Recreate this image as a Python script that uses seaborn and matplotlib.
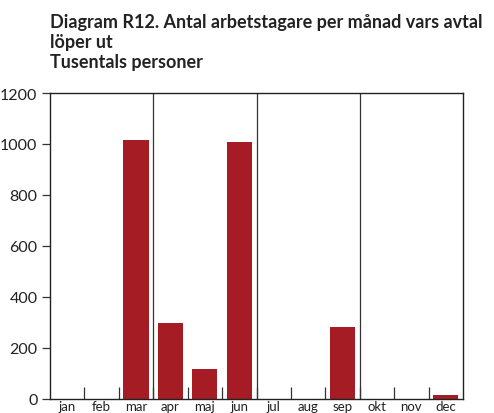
import matplotlib
matplotlib.use("Agg")
import matplotlib.pyplot as plt
from matplotlib.ticker import FixedLocator
import seaborn as sns
import pandas as pd

months = ["jan", "feb", "mar", "apr", "maj", "jun", "jul", "aug", "sep", "okt", "nov", "dec"]
workers = [0, 0, 1014, 298, 118, 1008, 0, 0, 282, 0, 0, 17]
y_ticks = [0, 200, 400, 600, 800, 1000, 1200]

sns.set_theme(style="white")
plt.rcParams["font.family"] = ["Lato", "DejaVu Sans"]

df = pd.DataFrame({"month": months, "workers": workers})

fig = plt.figure(figsize=(4.94, 4.14), dpi=100)
ax = fig.add_axes([50 / 494, 14 / 414, 413 / 494, 306 / 414])

sns.barplot(data=df, x="month", y="workers", color="#A51C24", width=0.73,
            saturation=1, ax=ax, edgecolor="none")

ax.set_ylim(0, 1200)
ax.set_xlim(-0.5, 11.5)
ax.set_yticks(y_ticks)
ax.set_yticklabels([str(v) for v in y_ticks], fontsize=11.5, color="#222222")
ax.set_xlabel("")
ax.set_ylabel("")

# quarter separators spanning the full height
for q in [2.5, 5.5, 8.5]:
    ax.axvline(q, color="#333333", lw=0.9, zorder=0)

# month boundaries as short inward ticks on the bottom axis
ax.xaxis.set_major_locator(FixedLocator(range(12)))
ax.set_xticklabels(months, fontsize=9.5, color="#222222")
ax.xaxis.set_minor_locator(FixedLocator([i + 0.5 for i in range(11)]))
ax.tick_params(axis="x", which="major", length=0, pad=1)
ax.tick_params(axis="x", which="minor", direction="in", length=9, width=0.9,
               color="#333333", bottom=True)
ax.tick_params(axis="y", which="major", direction="out", length=6, width=0.9,
               color="#333333", left=True, pad=3)

for side in ["left", "right", "top", "bottom"]:
    ax.spines[side].set_visible(True)
    ax.spines[side].set_color("#222222")
    ax.spines[side].set_linewidth(1.0)

fig.text(50 / 494, 1 - 14 / 414,
         "Diagram R12. Antal arbetstagare per månad vars avtal\nlöper ut\nTusentals personer",
         ha="left", va="top", fontsize=13, fontweight="bold", color="#222222",
         linespacing=1.2)

ax.set_position([50 / 494, 1 - 400 / 414, 413 / 494, 306 / 414])

fig.savefig("out.png", dpi=100)
